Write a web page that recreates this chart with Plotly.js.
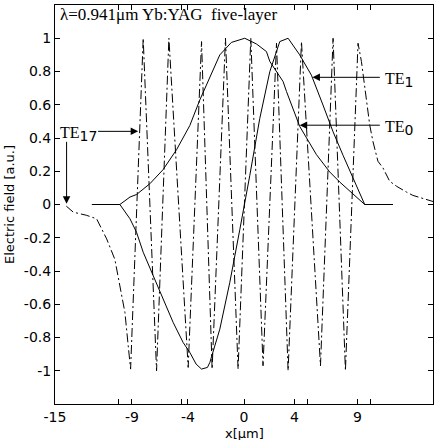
<!DOCTYPE html>
<html>
<head>
<meta charset="utf-8">
<script src="https://cdn.plot.ly/plotly-3.0.1.min.js"></script>
<style>html,body{margin:0;padding:0;background:#fff;}#chart{width:441px;height:440px;}</style>
</head>
<body>
<div id="chart"></div>
<script>
// TE0 mode (solid)
var te0X = [-12.07, -9.85, -9.05, -8.53, -7.47, -6.42, -5.35, -4.3, -3.5, -2.71, -1.92, -1.0, 0.06, 1.0, 1.78, 2.05, 3.1, 3.37, 4.42, 5.75, 6.8, 7.6, 8.65, 9.58, 11.82];
var te0Y = [0, 0, 0.045, 0.06, 0.125, 0.21, 0.33, 0.475, 0.63, 0.76, 0.9, 0.975, 1.0, 0.965, 0.92, 0.86, 0.74, 0.68, 0.47, 0.3, 0.196, 0.135, 0.065, 0.0, 0];
// TE1 mode (solid)
var te1X = [-12.07, -9.85, -9.05, -8.53, -8.0, -7.2, -6.42, -5.62, -4.83, -4.3, -3.8, -3.37, -2.9, -2.71, -1.92, -1.13, -0.33, 0.06, 0.46, 1.25, 2.05, 2.84, 3.5, 4.42, 5.35, 6.27, 7.07, 7.86, 8.65, 9.58, 11.82];
var te1Y = [0, 0, -0.086, -0.167, -0.287, -0.428, -0.569, -0.71, -0.83, -0.89, -0.96, -0.99, -0.98, -0.95, -0.75, -0.47, -0.15, 0.0, 0.175, 0.517, 0.8, 0.98, 1.0, 0.9, 0.778, 0.598, 0.437, 0.296, 0.155, 0.0, 0];
// TE17 mode (dash-dot)
var te17X = [-14.1, -13.55, -12.5, -11.7, -10.9, -10.25, -9.85, -9.45, -9.19, -9.0, -8.0, -6.94, -5.96, -4.43, -3.37, -2.53, -1.47, -0.47, 0.54, 1.51, 2.58, 3.5, 4.56, 6.07, 7.07, 8.05, 9.05, 9.32, 9.98, 10.24, 10.63, 11.03, 11.56, 12.1, 12.89, 13.4, 15];
var te17Y = [-0.01, -0.046, -0.065, -0.086, -0.207, -0.33, -0.49, -0.65, -0.85, -0.99, 1.0, -1.0, 1.0, -0.98, 0.98, -0.99, 1.0, -0.99, 1.0, -0.97, 0.97, -1.0, 0.98, -0.97, 1.0, -1.0, 0.97, 0.86, 0.477, 0.377, 0.26, 0.22, 0.14, 0.11, 0.075, 0.055, 0.018];
// axis ticks
var xTickVals = [-15, -10, -8.9, -5, -4.45, 0, 4, 5, 9, 10, 15];
var xTickText = ["-15", "", "-9", "", "-4", "0", "4", "", "9", "", "15"];
var yTickVals = [-1, -0.8, -0.6, -0.4, -0.2, 0, 0.2, 0.4, 0.6, 0.8, 1];
var yTickText = ["-1", "-0.8", "-0.6", "-0.4", "-0.2", "0", "0.2", "0.4", "0.6", "0.8", "1"];

var lineStyle = {color: 'black', width: 1};
var traces = [
  {x: te0X, y: te0Y, type: 'scatter', mode: 'lines', line: lineStyle, hoverinfo: 'none'},
  {x: te1X, y: te1Y, type: 'scatter', mode: 'lines', line: lineStyle, hoverinfo: 'none'},
  {x: te17X, y: te17Y, type: 'scatter', mode: 'lines', line: {color: 'black', width: 1, dash: '9px,3px,2px,3px'}, hoverinfo: 'none'}
];

var tickFont = {family: 'DejaVu Sans', size: 14, color: 'black'};
var serif = {family: 'Liberation Serif', size: 16, color: 'black'};
var titleSerif = {family: 'Liberation Serif', size: 17, color: 'black'};
var subStyle = 'font-family:DejaVu Sans;font-size:14px';

function arrow(x, y, ax, ay) {
  return {x: x, y: y, ax: ax, ay: ay, xref: 'x', yref: 'y', axref: 'x', ayref: 'y',
    text: '', showarrow: true, arrowhead: 2, arrowsize: 1.5, arrowwidth: 1, arrowcolor: 'black', standoff: 0, startstandoff: 0};
}

var layout = {
  width: 441, height: 440,
  margin: {l: 55, r: 8, t: 5, b: 36},
  paper_bgcolor: 'white', plot_bgcolor: 'white',
  showlegend: false,
  xaxis: {
    range: [-15, 15], tickmode: 'array', tickvals: xTickVals, ticktext: xTickText,
    ticks: 'inside', ticklen: 5, tickcolor: 'black', mirror: 'ticks',
    showline: true, linecolor: 'black', linewidth: 1, showgrid: false, zeroline: false,
    tickfont: tickFont
  },
  yaxis: {
    range: [-1.2, 1.2], tickmode: 'array', tickvals: yTickVals, ticktext: yTickText,
    ticks: 'inside', ticklen: 5, tickcolor: 'black', mirror: 'ticks',
    showline: true, linecolor: 'black', linewidth: 1, showgrid: false, zeroline: false,
    tickfont: tickFont,
    title: {text: 'Electric field [a.u.]', font: {family: 'DejaVu Sans', size: 13, color: 'black'}, standoff: 6}
  },
  annotations: [
    {x: 0.5, y: -0.073, xref: 'paper', yref: 'paper', xanchor: 'center', yanchor: 'middle', showarrow: false,
     text: 'x[μm]', font: {family: 'DejaVu Sans', size: 13, color: 'black'}},
    {x: -14.8, y: 1.145, xref: 'x', yref: 'y', xanchor: 'left', yanchor: 'middle', showarrow: false,
     text: 'λ=0.941μm Yb:YAG  five-layer', font: titleSerif},
    {x: 11.0, y: 0.75, xref: 'x', yref: 'y', xanchor: 'left', yanchor: 'middle', showarrow: false,
     text: 'TE<sub><span style="' + subStyle + '">1</span></sub>', font: serif},
    {x: 11.0, y: 0.46, xref: 'x', yref: 'y', xanchor: 'left', yanchor: 'middle', showarrow: false,
     text: 'TE<sub><span style="' + subStyle + '">0</span></sub>', font: serif},
    {x: -14.8, y: 0.425, xref: 'x', yref: 'y', xanchor: 'left', yanchor: 'middle', showarrow: false,
     text: 'TE<sub><span style="' + subStyle + '">17</span></sub>', font: serif},
    arrow(5.43, 0.765, 10.9, 0.765),
    arrow(4.42, 0.477, 10.9, 0.477),
    arrow(-8.4, 0.44, -11.7, 0.44),
    arrow(-14.08, 0.004, -14.08, 0.386)
  ]
};

Plotly.newPlot('chart', traces, layout, {staticPlot: true, displayModeBar: false});
</script>
</body>
</html>
